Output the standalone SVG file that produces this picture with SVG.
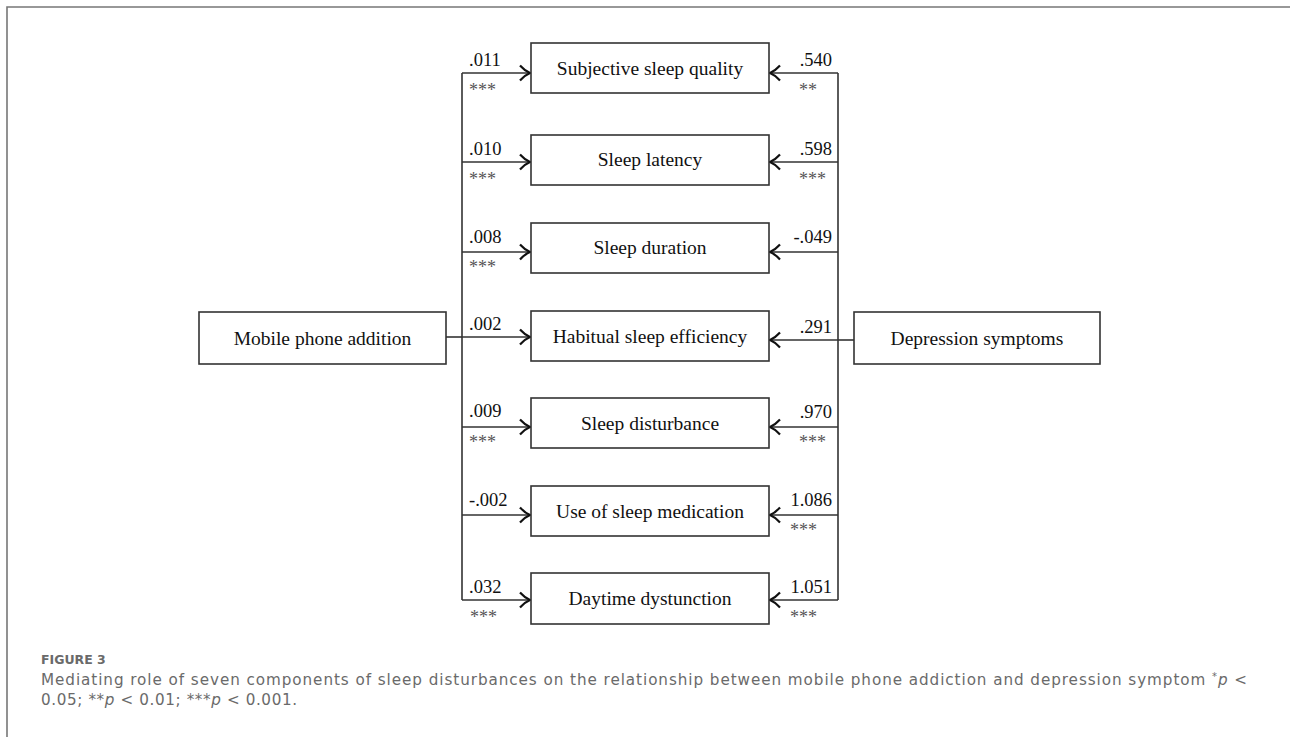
<svg xmlns="http://www.w3.org/2000/svg" width="1290" height="737" viewBox="0 0 1290 737">
<style>
.box{fill:#fff;stroke:#333;stroke-width:1.6}
.lbl{font-family:"Liberation Serif","Times New Roman",serif;font-size:19.5px;fill:#111;text-anchor:middle}
.num{font-family:"Liberation Serif","Times New Roman",serif;font-size:18.5px;fill:#111}
.ast{font-family:"Liberation Serif","Times New Roman",serif;font-size:18px;fill:#555}
.ln{fill:none;stroke:#333;stroke-width:1.6}
.frame{fill:none;stroke:#777;stroke-width:1.6}
.cap{font-family:"DejaVu Sans","Open Sans",sans-serif;fill:#6a6a6a}
</style>
<defs>
<marker id="ah" viewBox="-12 -9 14 18" markerWidth="14" markerHeight="18" refX="0" refY="0" orient="auto" markerUnits="userSpaceOnUse">
<path d="M-10,-7.5 Q-5,-2 0,0 Q-5,2 -10,7.5" fill="none" stroke="#111" stroke-width="2.2"/>
</marker>
</defs>
<rect width="1290" height="737" fill="#fff"/>
<path class="frame" d="M7,737 V7 H1290"/>

<g id="connectors">
<path class="ln" d="M462,73 V600"/>
<path class="ln" d="M838,73 V600"/>
<path class="ln" d="M446,337 H462"/>
<path class="ln" d="M854,340 H838"/>
<path class="ln" marker-end="url(#ah)" d="M462,73 H530"/>
<path class="ln" marker-end="url(#ah)" d="M462,162 H530"/>
<path class="ln" marker-end="url(#ah)" d="M462,252 H530"/>
<path class="ln" marker-end="url(#ah)" d="M462,337 H530"/>
<path class="ln" marker-end="url(#ah)" d="M462,427 H530"/>
<path class="ln" marker-end="url(#ah)" d="M462,515 H530"/>
<path class="ln" marker-end="url(#ah)" d="M462,600 H530"/>
<path class="ln" marker-end="url(#ah)" d="M838,73 H770"/>
<path class="ln" marker-end="url(#ah)" d="M838,162 H770"/>
<path class="ln" marker-end="url(#ah)" d="M838,252 H770"/>
<path class="ln" marker-end="url(#ah)" d="M838,340 H770"/>
<path class="ln" marker-end="url(#ah)" d="M838,427 H770"/>
<path class="ln" marker-end="url(#ah)" d="M838,515 H770"/>
<path class="ln" marker-end="url(#ah)" d="M838,600 H770"/>
<g class="num">
<text x="469" y="66">.011</text>
<text x="469" y="155">.010</text>
<text x="469" y="243">.008</text>
<text x="469" y="330">.002</text>
<text x="469" y="417">.009</text>
<text x="469" y="506">-.002</text>
<text x="469" y="593">.032</text>
<text x="832" y="66" text-anchor="end">.540</text>
<text x="832" y="155" text-anchor="end">.598</text>
<text x="832" y="243" text-anchor="end">-.049</text>
<text x="832" y="333" text-anchor="end">.291</text>
<text x="832" y="418" text-anchor="end">.970</text>
<text x="832" y="506" text-anchor="end">1.086</text>
<text x="832" y="593" text-anchor="end">1.051</text>
</g>
<g class="ast">
<text x="469" y="96">***</text>
<text x="469" y="185">***</text>
<text x="469" y="273">***</text>
<text x="469" y="448">***</text>
<text x="470" y="623">***</text>
<text x="799" y="96">**</text>
<text x="799" y="185">***</text>
<text x="799" y="448">***</text>
<text x="790" y="536">***</text>
<text x="790" y="623">***</text>
</g>
</g>

<g id="mobile"><rect class="box" x="199" y="312" width="247" height="52"/><text class="lbl" x="322.5" y="345">Mobile phone addition</text></g>
<g id="depression"><rect class="box" x="854" y="312" width="246" height="52"/><text class="lbl" x="977" y="345">Depression symptoms</text></g>
<g id="n1"><rect class="box" x="531" y="43" width="238" height="50"/><text class="lbl" x="650" y="75">Subjective sleep quality</text></g>
<g id="n2"><rect class="box" x="531" y="135" width="238" height="50"/><text class="lbl" x="650" y="166">Sleep latency</text></g>
<g id="n3"><rect class="box" x="531" y="223" width="238" height="50"/><text class="lbl" x="650" y="254">Sleep duration</text></g>
<g id="n4"><rect class="box" x="531" y="311" width="238" height="50"/><text class="lbl" x="650" y="343">Habitual sleep efficiency</text></g>
<g id="n5"><rect class="box" x="531" y="398" width="238" height="50"/><text class="lbl" x="650" y="430">Sleep disturbance</text></g>
<g id="n6"><rect class="box" x="531" y="486" width="238" height="50"/><text class="lbl" x="650" y="518">Use of sleep medication</text></g>
<g id="n7"><rect class="box" x="531" y="573" width="238" height="51"/><text class="lbl" x="650" y="605">Daytime dystunction</text></g>

<g id="caption">
<text class="cap" x="41" y="664" font-size="12.5" font-weight="700" fill="#555">FIGURE 3</text>
<text class="cap" x="41" y="685" font-size="15.2" textLength="1206" lengthAdjust="spacing">Mediating role of seven components of sleep disturbances on the relationship between mobile phone addiction and depression symptom <tspan dy="-5" font-size="10">*</tspan><tspan dy="5" font-style="italic">p</tspan> &lt;</text>
<text class="cap" x="41" y="705" font-size="15.2" textLength="256" lengthAdjust="spacing">0.05; **<tspan font-style="italic">p</tspan> &lt; 0.01; ***<tspan font-style="italic">p</tspan> &lt; 0.001.</text>
</g>
</svg>
